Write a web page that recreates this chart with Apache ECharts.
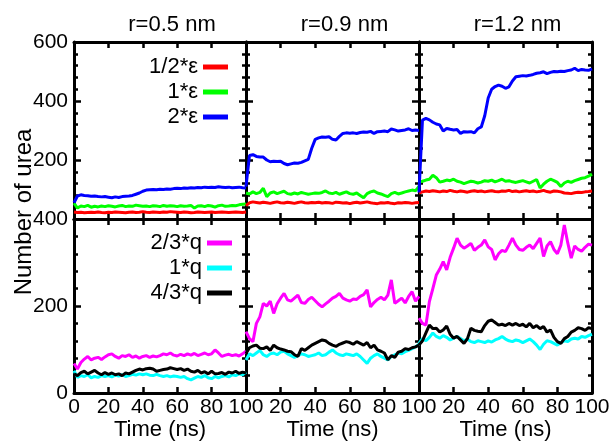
<!DOCTYPE html>
<html lang="en">
<head>
    <meta charset="UTF-8">
    <title>Number of urea</title>
    <script src="https://cdn.jsdelivr.net/npm/echarts@6/dist/echarts.min.js"></script>
    <style>
        body { margin: 0; background: #fff; }
    </style>
</head>
<body>
<div id="main" style="width: 614px;height:445px;"></div>
<script type="text/javascript">
    // time (ns), one sample every 2 ns
    var time = [0, 2, 4, 6, 8, 10, 12, 14, 16, 18, 20, 22, 24, 26, 28, 30, 32, 34, 36, 38,
        40, 42, 44, 46, 48, 50, 52, 54, 56, 58, 60, 62, 64, 66, 68, 70, 72, 74, 76, 78,
        80, 82, 84, 86, 88, 90, 92, 94, 96, 98, 100];

    // top row: epsilon scaling, r = 0.5 / 0.9 / 1.2 nm
    var red1 = [24, 22, 23, 21, 22, 23, 22, 24, 22, 21, 23, 22, 24, 23, 22, 21, 23, 24, 22, 23,
        25, 23, 22, 24, 23, 22, 24, 23, 25, 24, 23, 22, 24, 23, 21, 22, 24, 23, 22, 23,
        24, 22, 23, 24, 23, 22, 23, 24, 23, 22, 24];
    var green1 = [54, 37, 44, 42, 46, 40, 43, 41, 44, 42, 45, 43, 41, 44, 46, 42, 44, 43, 47, 45,
        43, 44, 42, 45, 44, 42, 46, 43, 45, 44, 42, 45, 43, 44, 46, 37, 44, 45, 42, 46,
        44, 40, 45, 47, 43, 44, 46, 45, 48, 50, 51];
    var blue1 = [55, 78, 82, 80, 79, 77, 78, 76, 75, 76, 74, 72, 75, 73, 76, 77, 78, 80, 84, 88,
        94, 98, 99, 100, 99, 101, 100, 102, 101, 103, 104, 103, 105, 104, 106, 105, 107, 106, 108, 107,
        108, 107, 109, 108, 107, 108, 106, 107, 108, 106, 105];

    var red2 = [45, 55, 58, 56, 54, 57, 55, 53, 56, 58, 55, 54, 57, 55, 53, 56, 58, 55, 54, 56,
        55, 57, 54, 56, 55, 53, 57, 56, 54, 55, 52, 55, 57, 54, 56, 58, 55, 53, 52, 55,
        54, 56, 53, 52, 55, 54, 56, 55, 53, 55, 56];
    var green2 = [88, 85, 92, 86, 90, 104, 76, 88, 92, 86, 90, 94, 86, 84, 88, 85, 90, 87, 84, 86,
        88, 87, 90, 95, 88, 86, 90, 84, 88, 92, 86, 84, 88, 80, 72, 86, 92, 95, 88, 85,
        80, 76, 86, 90, 85, 88, 92, 95, 98, 96, 110];
    var blue2 = [110, 215, 218, 212, 210, 210, 200, 194, 196, 195, 196, 188, 184, 187, 190, 189, 192, 197, 202, 240,
        270, 275, 278, 277, 279, 270, 268, 280, 290, 292, 291, 292, 290, 293, 295, 294, 297, 290, 296, 297,
        298, 296, 305, 302, 298, 300, 302, 306, 300, 302, 300];

    var red3 = [88, 92, 95, 93, 96, 94, 92, 95, 93, 97, 94, 92, 95, 93, 91, 94, 96, 93, 95, 92,
        94, 96, 93, 92, 95, 94, 97, 93, 95, 92, 94, 96, 93, 95, 92, 94, 97, 93, 91, 95,
        94, 92, 88, 87, 86, 89, 91, 90, 92, 93, 95];
    var green3 = [125, 128, 132, 135, 148, 140, 125, 128, 132, 130, 135, 128, 125, 120, 124, 128, 126, 122, 125, 130,
        128, 132, 126, 130, 135, 128, 130, 126, 124, 127, 130, 126, 122, 128, 134, 105, 118, 128, 135, 130,
        124, 110, 122, 128, 124, 130, 134, 138, 140, 145, 152];
    var blue3 = [90, 335, 341, 336, 328, 322, 319, 298, 307, 304, 302, 303, 290, 296, 295, 296, 292, 306, 312, 350,
        410, 440, 449, 454, 450, 443, 448, 468, 482, 484, 486, 485, 487, 490, 494, 496, 499, 493, 497, 500,
        499, 501, 500, 503, 505, 511, 503, 507, 505, 504, 509];

    // bottom row: charge scaling
    var mag1 = [68, 55, 70, 78, 84, 76, 80, 82, 77, 83, 88, 90, 84, 80, 86, 84, 88, 82, 85, 80,
        84, 86, 82, 85, 83, 86, 90, 88, 92, 87, 85, 89, 86, 90, 87, 91, 86, 89, 92, 88,
        90, 99, 92, 84, 87, 89, 86, 88, 85, 90, 96];
    var cyan1 = [51, 36, 40, 38, 42, 35, 38, 36, 40, 38, 40, 37, 41, 39, 42, 38, 40, 43, 41, 44,
        42, 44, 41, 40, 43, 40, 38, 40, 37, 39, 38, 36, 38, 33, 30, 34, 38, 36, 40, 35,
        33, 38, 35, 38, 40, 37, 42, 40, 44, 42, 48];
    var black1 = [44, 40, 47, 50, 44, 48, 52, 46, 42, 47, 43, 46, 42, 44, 40, 46, 44, 48, 52, 55,
        53, 56, 57, 55, 50, 52, 54, 55, 58, 56, 54, 56, 52, 55, 50, 48, 52, 46, 49, 44,
        50, 44, 45, 47, 43, 48, 46, 50, 45, 48, 46];

    var mag2 = [141, 125, 118, 160, 175, 206, 200, 211, 183, 205, 218, 229, 214, 211, 218, 225, 208, 206, 215, 220,
        212, 204, 198, 205, 211, 218, 222, 229, 218, 214, 211, 216, 215, 222, 226, 237, 198, 208, 215, 220,
        214, 225, 260, 206, 212, 218, 207, 222, 233, 211, 222];
    var cyan2 = [76, 90, 86, 92, 98, 88, 84, 90, 92, 88, 94, 96, 90, 86, 82, 86, 90, 88, 84, 86,
        88, 92, 86, 88, 94, 99, 92, 88, 86, 90, 88, 86, 90, 84, 76, 68, 80, 86, 90, 84,
        80, 76, 84, 88, 92, 90, 95, 98, 102, 106, 112];
    var black2 = [91, 104, 108, 110, 103, 102, 106, 98, 110, 104, 101, 99, 96, 95, 88, 84, 102, 98, 104, 110,
        114, 118, 122, 120, 114, 110, 107, 112, 115, 118, 116, 112, 118, 114, 110, 116, 104, 110, 99, 96,
        92, 76, 86, 82, 94, 96, 102, 100, 104, 106, 110];

    var mag3 = [172, 160, 156, 210, 240, 271, 285, 302, 283, 312, 333, 356, 340, 333, 338, 344, 328, 335, 340, 352,
        336, 330, 306, 320, 328, 325, 340, 356, 340, 330, 328, 335, 340, 332, 344, 356, 314, 338, 348, 330,
        320, 340, 386, 345, 310, 338, 330, 326, 335, 342, 340];
    var cyan3 = [114, 125, 120, 128, 138, 130, 126, 132, 128, 122, 126, 130, 125, 120, 124, 118, 116, 120, 118, 116,
        120, 117, 122, 125, 130, 124, 120, 118, 122, 120, 116, 120, 124, 118, 110, 100, 112, 120, 118, 114,
        110, 116, 120, 118, 124, 126, 124, 130, 128, 132, 135];
    var black3 = [110, 120, 138, 156, 148, 149, 140, 145, 154, 135, 126, 130, 122, 114, 125, 149, 144, 142, 141, 155,
        165, 168, 162, 156, 158, 155, 160, 156, 160, 155, 158, 152, 160, 150, 155, 148, 153, 140, 145, 128,
        118, 114, 125, 130, 140, 144, 150, 148, 144, 150, 148];

    var titles = ['r=0.5 nm', 'r=0.9 nm', 'r=1.2 nm'];
    var topNames = ['1/2*ε', '1*ε', '2*ε'];
    var bottomNames = ['2/3*q', '1*q', '4/3*q'];
    var topColors = ['#ff0000', '#00ff00', '#0000ff'];
    var bottomColors = ['#ff00ff', '#00ffff', '#000000'];
    var topData = [[red1, green1, blue1], [red2, green2, blue2], [red3, green3, blue3]];
    var bottomData = [[mag1, cyan1, black1], [mag2, cyan2, black2], [mag3, cyan3, black3]];

    // panel layout
    var lefts = [74, 246, 419];
    var widths = [172, 173, 173];
    var tops = [42, 219];
    var heights = [177, 174];
    var yMax = [600, 400];
    var font = '"Liberation Sans", Arial, sans-serif';

    function pairs(ys) {
        return ys.map(function (v, i) {
            return [time[i], v];
        });
    }

    function xAxis(p, pos, labels, col) {
        return {
            type: 'value', gridIndex: p, position: pos,
            min: 0, max: 100, interval: 20,
            axisLine: {onZero: false, lineStyle: {color: '#000', width: 3}},
            axisTick: {inside: true, length: 6, lineStyle: {color: '#000', width: 2.5}},
            splitLine: {show: false},
            axisLabel: {
                show: labels, margin: 4, color: '#000', fontSize: 21, fontFamily: font,
                formatter: function (v) {
                    return (col > 0 && v === 0) ? '' : String(v);
                }
            },
            name: labels ? 'Time (ns)' : '',
            nameLocation: 'middle', nameGap: 21,
            nameTextStyle: {color: '#000', fontSize: 22, fontFamily: font}
        };
    }

    function yAxis(p, pos, labels, row) {
        return {
            type: 'value', gridIndex: p, position: pos,
            min: 0, max: yMax[row], interval: 200,
            axisLine: {onZero: false, lineStyle: {color: '#000', width: 3}},
            axisTick: {inside: true, length: 7, lineStyle: {color: '#000', width: 2.5}},
            minorTick: {show: true, splitNumber: 5, length: 4, lineStyle: {color: '#000', width: 2.5}},
            splitLine: {show: false},
            minorSplitLine: {show: false},
            axisLabel: {
                show: labels, margin: 6, color: '#000', fontSize: 21, fontFamily: font,
                formatter: function (v) {
                    return (row === 0 && v === 0) ? '' : String(v);
                }
            }
        };
    }

    var grids = [], xAxes = [], yAxes = [], series = [];
    for (var row = 0; row < 2; row++) {
        for (var col = 0; col < 3; col++) {
            var p = row * 3 + col;
            grids.push({
                left: lefts[col], top: tops[row], width: widths[col], height: heights[row],
                outerBoundsMode: 'none'
            });
            // bottom/left axes carry the labels, top/right ones just mirror the ticks
            xAxes.push(xAxis(p, 'bottom', row === 1, col));
            xAxes.push(xAxis(p, 'top', false, col));
            yAxes.push(yAxis(p, 'left', col === 0, row));
            yAxes.push(yAxis(p, 'right', false, row));

            var names = row === 0 ? topNames : bottomNames;
            var colors = row === 0 ? topColors : bottomColors;
            var data = row === 0 ? topData[col] : bottomData[col];
            for (var k = 0; k < 3; k++) {
                series.push({
                    name: names[k], type: 'line',
                    xAxisIndex: 2 * p, yAxisIndex: 2 * p,
                    data: pairs(data[k]),
                    symbol: 'none', showSymbol: false,
                    lineStyle: {width: 3, color: colors[k]},
                    itemStyle: {color: colors[k]}
                });
            }
        }
    }

    var legendBase = {
        orient: 'vertical', align: 'right', icon: 'rect',
        itemWidth: 25, itemHeight: 5, itemGap: 3, padding: 0,
        selectedMode: false,
        textStyle: {color: '#000', fontSize: 22, fontFamily: font}
    };

    var graphics = titles.map(function (t, i) {
        return {
            type: 'text', x: lefts[i] + widths[i] / 2 + 12, y: 25,
            style: {
                text: t, font: '22px ' + font, fill: '#000',
                align: 'center', verticalAlign: 'middle',
                textAlign: 'center', textVerticalAlign: 'middle'
            }
        };
    });
    graphics.push({
        type: 'text', x: 24, y: 212, rotation: Math.PI / 2,
        style: {
            text: 'Number of urea', font: '24px ' + font, fill: '#000',
            align: 'center', verticalAlign: 'middle',
            textAlign: 'center', textVerticalAlign: 'middle'
        }
    });

    var myChart = echarts.init(document.getElementById('main'));
    var option = {
        backgroundColor: '#fff',
        animation: false,
        grid: grids,
        xAxis: xAxes,
        yAxis: yAxes,
        legend: [
            Object.assign({data: topNames, right: 386, top: 56}, legendBase),
            Object.assign({data: bottomNames, right: 382, top: 232}, legendBase)
        ],
        graphic: graphics,
        series: series
    };
    myChart.setOption(option);
</script>
</body>
</html>
